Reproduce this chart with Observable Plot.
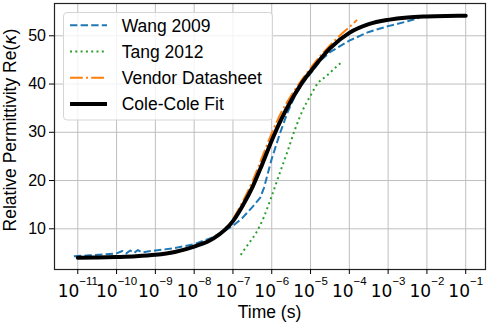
<!DOCTYPE html>
<html><head><meta charset="utf-8">
<script src="https://cdn.jsdelivr.net/npm/d3@7"></script>
<script src="https://cdn.jsdelivr.net/npm/@observablehq/plot@0.6"></script>
<style>body{margin:0;background:#fff} svg{display:block}</style>
</head><body><div id="chart"></div>
<script>
// decade exponents for x ticks, y ticks
const xTickExp = [-11,-10,-9,-8,-7,-6,-5,-4,-3,-2,-1];
const yTicks = [10,20,30,40,50];

// Wang 2009 (time exponent, permittivity)
const wangExp = [-11.1,-10.7,-10.3,-10,-9.85,-9.75,-9.65,-9.55,-9.45,-9.35,-9.2,-9,-8.5,-8,-7.5,-7,-6.75,-6.5,-6.3,-6.2,-6.1,-6,-5.8,-5.6,-5.4,-5.2,-5,-4.75,-4.5,-4.25,-4,-3.5,-3,-2.5,-2.2];
const wangVal = [4.3,4.5,4.7,4.9,5.4,4.9,5.5,5.0,5.6,5.1,5.3,5.5,6.0,6.8,8.3,10.6,12.3,14.5,16.4,18.5,21.5,24.5,29.5,34.0,37.6,40.2,42.2,44.8,46.6,47.8,49.0,50.8,52.0,53.0,53.7];

// Tang 2012
const tangExp = [-6.8,-6.6,-6.4,-6.2,-6.0,-5.8,-5.6,-5.4,-5.2,-5.0,-4.8,-4.6,-4.4,-4.2];
const tangVal = [4.6,6.9,9.2,12.5,16.8,21.4,25.9,30.6,34.6,37.6,40.3,41.6,43.1,44.5];

// Vendor Datasheet
const vendorExp = [-7.0,-6.75,-6.5,-6.25,-6,-5.75,-5.5,-5.25,-5,-4.75,-4.5,-4.25,-4,-3.8];
const vendorVal = [12.0,15.6,19.8,24.8,29.8,34.2,37.6,40.6,43.3,45.8,48.0,50.0,51.8,53.3];

// Cole-Cole Fit
const coleExp = [-11,-10.5,-10,-9.5,-9,-8.5,-8,-7.5,-7,-6.75,-6.5,-6.25,-6,-5.75,-5.5,-5.25,-5,-4.5,-4,-3.5,-3,-2.5,-2,-1.5,-1];
const coleVal = [4.0,4.05,4.15,4.3,4.6,5.2,6.3,8.0,11.6,14.8,18.6,23.3,28.3,32.8,36.6,39.9,42.6,47.4,50.6,52.4,53.3,53.8,54.0,54.1,54.15];

const seriesNames = ["Wang 2009","Tang 2012","Vendor Datasheet","Cole-Cole Fit"];
const seriesColors = ["#1f77b4","#2ca02c","#ff7f0e","#000000"];
const seriesDash = ["7.4,3.2","2,3.3","12.8,3.2,2,3.2",null];
const seriesWidth = [2,2,2,4];
const seriesCurve = ["linear","monotone-x","monotone-x","monotone-x"];
const seriesExp = [wangExp,tangExp,vendorExp,coleExp];
const seriesVal = [wangVal,tangVal,vendorVal,coleVal];

const xTicks = xTickExp.map(e => Math.pow(10, e));
const rows = seriesNames.map((n, k) => seriesExp[k].map((e, i) => ({t: Math.pow(10, e), v: seriesVal[k][i], name: n})));

const font = "'Liberation Sans', Arial, sans-serif";

const chart = Plot.plot({
  width: 488, height: 326,
  marginTop: 3, marginLeft: 54, marginRight: 3, marginBottom: 57,
  style: {fontFamily: font, background: "#fff", color: "#000"},
  x: {type: "log", domain: [Math.pow(10,-11.6), Math.pow(10,-0.49)]},
  y: {domain: [1.565, 56.69]},
  marks: [
    Plot.gridX(xTicks, {stroke: "#bfbfbf", strokeOpacity: 1, strokeWidth: 1}),
    Plot.gridY(yTicks, {stroke: "#bfbfbf", strokeOpacity: 1, strokeWidth: 1}),
    ...seriesNames.map((n, k) => Plot.line(rows[k], {
      x: "t", y: "v", stroke: seriesColors[k], strokeWidth: seriesWidth[k],
      strokeDasharray: seriesDash[k] || undefined, curve: seriesCurve[k],
      strokeLinecap: seriesDash[k] ? "butt" : "round", strokeLinejoin: "round"
    })),
    Plot.frame({stroke: "#222", strokeWidth: 1.2}),
    Plot.axisX(xTicks, {tickSize: 5, tickPadding: 10.5, fontSize: 17, label: null,
      tickFormat: d => "10|" + Math.round(Math.log10(d))}),
    Plot.axisY(yTicks, {tickSize: 5, tickPadding: 3.5, fontSize: 16, label: null})
  ]
});
document.getElementById("chart").appendChild(chart);

const svg = d3.select(chart);
// mathtext-like tick labels: 10 with superscript exponent
svg.selectAll('g[aria-label="x-axis tick label"] text').each(function() {
  const s = this.textContent.split("|");
  const el = d3.select(this);
  el.text(null).style("font-family", "'DejaVu Sans', sans-serif");
  el.append("tspan").text(s[0]);
  el.append("tspan").attr("dy", -12.5).attr("font-size", 11.5)
    .style("font-family", font).text(s[1].replace("-", "\u2212"));
});

// axis labels
svg.append("text").attr("x", 269.5).attr("y", 318).attr("text-anchor", "middle")
  .attr("font-size", 17.5).attr("font-family", font).attr("fill", "#000").text("Time (s)");
const yl = svg.append("text").attr("transform", "translate(16,130) rotate(-90)").attr("text-anchor", "middle")
  .attr("font-size", 17.5).attr("font-family", font).attr("fill", "#000");
yl.append("tspan").text("Relative Permittivity Re(");
yl.append("tspan").attr("font-style", "italic").attr("font-family", "'DejaVu Sans', sans-serif").text("\u03ba");
yl.append("tspan").text(")");

// legend
const lg = svg.append("g").attr("text-anchor", "start");
lg.append("rect").attr("x", 63.5).attr("y", 12.5).attr("width", 209).attr("height", 107.5).attr("rx", 3.5)
  .attr("fill", "#fff").attr("fill-opacity", 0.8).attr("stroke", "#d5d5d5").attr("stroke-width", 1);
seriesNames.forEach((n, k) => {
  const cy = 25.3 + 26.25 * k;
  lg.append("line").attr("x1", 70).attr("x2", 107).attr("y1", cy).attr("y2", cy)
    .attr("stroke", seriesColors[k]).attr("stroke-width", seriesWidth[k])
    .attr("stroke-dasharray", seriesDash[k]).attr("stroke-linecap", "butt");
  lg.append("text").attr("x", 121.7).attr("y", cy + 6.3).attr("font-size", 17.5)
    .attr("text-anchor", "start").attr("font-family", font).attr("fill", "#000").text(n);
});
</script>
</body></html>
